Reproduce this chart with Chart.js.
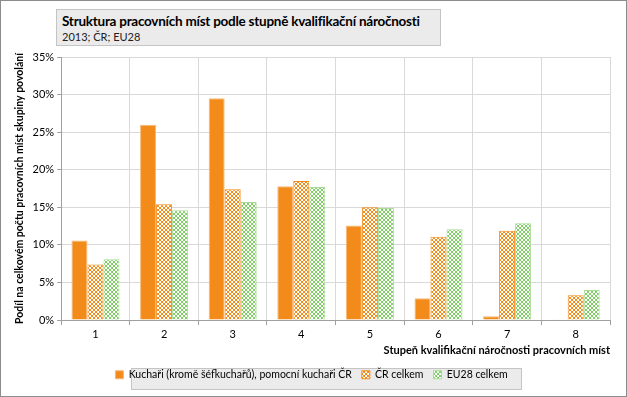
<!DOCTYPE html>
<html>
<head>
<meta charset="utf-8">
<script src="https://cdn.jsdelivr.net/npm/chart.js@4"></script>
<style>
    body { margin: 0; background: #fff; font-family: Lato, sans-serif; }
    #wrap { position: relative; width: 625px; height: 395px; border: 1px solid #8c8c8c; }
    #title {
        position: absolute; left: 55px; top: 8px; width: 385px; height: 37px;
        background: #ebebeb; border: 1px solid #c4c4c4; box-sizing: border-box;
        padding: 3px 0 0 5px; white-space: nowrap;
    }
    #title .t { font-weight: bold; font-size: 13.5px; letter-spacing: -0.25px; color: #000; line-height: 17px; }
    #title .s { font-size: 11px; color: #222; line-height: 14px; }
</style>
</head>
<body>
<div id="wrap">
    <canvas id="myChart" width="625" height="395"></canvas>
    <div id="title">
        <div class="t">Struktura pracovních míst podle stupně kvalifikační náročnosti</div>
        <div class="s">2013; ČR; EU28</div>
    </div>
</div>
<script>
const categories = ['1', '2', '3', '4', '5', '6', '7', '8'];
const seriesNames = ['Kuchaři (kromě šéfkuchařů), pomocní kuchaři ČR', 'ČR celkem', 'EU28 celkem'];
const kuchari = [10.6, 26.0, 29.5, 17.8, 12.6, 2.9, 0.5, 0.1];
const crCelkem = [7.4, 15.4, 17.4, 18.5, 15.0, 11.1, 11.9, 3.3];
const eu28Celkem = [8.1, 14.6, 15.7, 17.7, 14.9, 12.1, 12.9, 4.0];

const ctx = document.getElementById('myChart').getContext('2d');

// small checkerboard fill like the Excel pattern
function checker(color) {
    const c = document.createElement('canvas');
    c.width = 4;
    c.height = 4;
    const g = c.getContext('2d');
    g.fillStyle = '#ffffff';
    g.fillRect(0, 0, 4, 4);
    g.fillStyle = color;
    g.fillRect(0, 0, 2, 2);
    g.fillRect(2, 2, 2, 2);
    return ctx.createPattern(c, 'repeat');
}

// grey box behind the legend
const legendBox = {
    id: 'legendBox',
    beforeDraw(chart) {
        const l = chart.legend;
        if (!l) return;
        const c = chart.ctx;
        c.save();
        c.fillStyle = '#ebebeb';
        c.strokeStyle = '#c4c4c4';
        c.lineWidth = 1;
        c.fillRect(130.5, 367.5, 390, 21);
        c.strokeRect(130.5, 367.5, 390, 21);
        c.restore();
    }
};

new Chart(ctx, {
    type: 'bar',
    data: {
        labels: categories,
        datasets: [{
            label: seriesNames[0],
            data: kuchari,
            backgroundColor: '#f28b1a',
            borderColor: '#f7b877',
            borderWidth: 1
        }, {
            label: seriesNames[1],
            data: crCelkem,
            backgroundColor: checker('#f28b1a'),
            borderColor: '#f28b1a',
            borderWidth: 1
        }, {
            label: seriesNames[2],
            data: eu28Celkem,
            backgroundColor: checker('#7fcf66'),
            borderColor: '#a6dd94',
            borderWidth: 1
        }]
    },
    options: {
        responsive: false,
        animation: false,
        layout: { padding: { top: 56, left: 12, right: 16, bottom: 6 } },
        datasets: { bar: { barPercentage: 1, categoryPercentage: 0.7 } },
        plugins: {
            legend: {
                position: 'bottom',
                labels: {
                    boxWidth: 8,
                    boxHeight: 8,
                    padding: 10,
                    color: '#000',
                    font: { family: 'Lato', size: 10.5 }
                }
            },
            tooltip: { enabled: false }
        },
        scales: {
            x: {
                grid: { offset: true, color: '#d9d9d9', tickLength: 5, tickColor: '#a0a0a0' },
                border: { color: '#a0a0a0' },
                ticks: { color: '#000', font: { family: 'Lato', size: 11 } },
                title: {
                    display: true,
                    text: 'Stupeň kvalifikační náročnosti pracovních míst',
                    align: 'end',
                    color: '#000',
                    font: { family: 'Lato', size: 11, weight: 'bold' },
                    padding: { top: 0, bottom: 2 }
                }
            },
            y: {
                min: 0,
                max: 35,
                grid: { color: '#d9d9d9', tickLength: 4, tickColor: '#a0a0a0' },
                border: { color: '#a0a0a0' },
                ticks: {
                    stepSize: 5,
                    color: '#000',
                    font: { family: 'Lato', size: 11 },
                    callback: (v) => v + '%'
                },
                title: {
                    display: true,
                    text: 'Podíl na celkovém počtu pracovních míst skupiny povolání',
                    color: '#000',
                    font: { family: 'Lato', size: 10.5, weight: 'bold' },
                    padding: { top: 0, bottom: 4 }
                }
            }
        }
    },
    plugins: [legendBox]
});
</script>
</body>
</html>
